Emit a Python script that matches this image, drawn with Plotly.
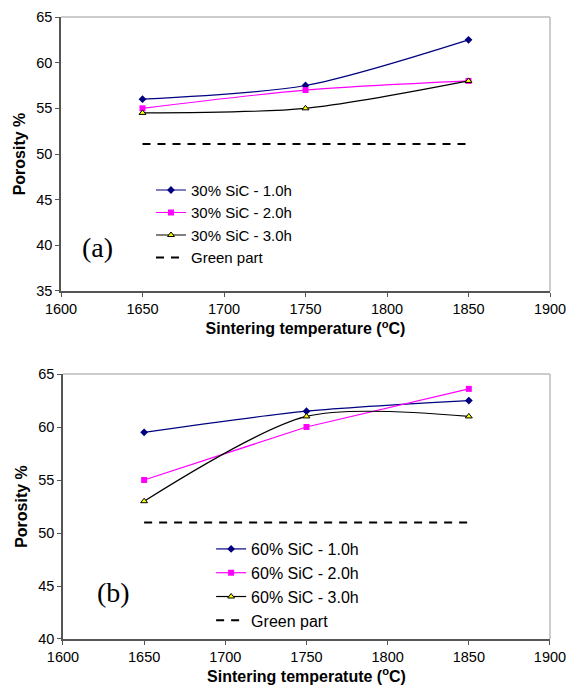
import plotly.graph_objects as go

temps = [1650, 1750, 1850]

# Panel (a): 30% SiC
a_names = ["30% SiC - 1.0h", "30% SiC - 2.0h", "30% SiC - 3.0h"]
a_1h = [56.0, 57.5, 62.5]
a_2h = [55.0, 57.0, 58.0]
a_3h = [54.5, 55.0, 58.0]
a_green = [51.1, 51.1, 51.1]

# Panel (b): 60% SiC
b_names = ["60% SiC - 1.0h", "60% SiC - 2.0h", "60% SiC - 3.0h"]
b_1h = [59.5, 61.5, 62.5]
b_2h = [55.0, 60.0, 63.6]
b_3h = [53.0, 61.0, 61.0]
b_green = [51.0, 51.0, 51.0]

green_name = "Green part"
x_ticks = [1600, 1650, 1700, 1750, 1800, 1850, 1900]

fig = go.Figure()

styles = [
    dict(color="#000080", marker=dict(symbol="diamond", size=6, color="#000080")),
    dict(color="#FF00FF", marker=dict(symbol="square", size=6, color="#FF00FF")),
    dict(color="#000000", marker=dict(symbol="triangle-up", size=6, color="#FFFF00",
                                      line=dict(color="#000000", width=1))),
]

def add_panel(names, series, green, xa, ya, legend, smooth):
    for i, (n, s) in enumerate(zip(names, series)):
        st = styles[i]
        fig.add_trace(go.Scatter(
            x=temps, y=s, name=n, mode="lines+markers",
            line=dict(color=st["color"], width=1.2,
                      shape="spline" if smooth[i] else "linear", smoothing=0.8),
            marker=st["marker"], xaxis=xa, yaxis=ya, legend=legend))
    fig.add_trace(go.Scatter(
        x=temps, y=green, name=green_name, mode="lines",
        line=dict(color="#000000", width=2, dash="8px,7px"),
        xaxis=xa, yaxis=ya, legend=legend))

add_panel(a_names, [a_1h, a_2h, a_3h], a_green, "x", "y", "legend", [True, True, True])
add_panel(b_names, [b_1h, b_2h, b_3h], b_green, "x2", "y2", "legend2", [True, False, True])

FAM = "Arial, Liberation Sans, sans-serif"
axis_font = dict(family=FAM, size=14.5, color="#000000")
title_font = dict(family=FAM, size=16, color="#000000")

common_x = dict(range=[1600, 1900], tickvals=x_ticks, ticks="outside", ticklen=4,
                tickcolor="#555555", showline=True, linecolor="#555555", linewidth=1.5,
                showgrid=False, zeroline=False, tickfont=axis_font, fixedrange=True,
                automargin=False, ticklabeloverflow="allow")
common_y = dict(ticks="outside", ticklen=4, tickcolor="#555555", showline=True,
                linecolor="#555555", linewidth=1.5, showgrid=False, zeroline=False,
                tickfont=axis_font, fixedrange=True, automargin=False)

fig.update_layout(
    width=566, height=687,
    margin=dict(l=61, r=16, t=17, b=48),
    paper_bgcolor="white", plot_bgcolor="white",
    showlegend=True,
    xaxis=dict(common_x, domain=[0, 1], anchor="y",
               title=dict(text="<b>Sintering temperature (<sup>o</sup>C)</b>", font=title_font, standoff=7)),
    yaxis=dict(common_y, domain=[0.5595, 1.0], anchor="x", range=[35, 65], dtick=5,
               title=dict(text="<b>Porosity %</b>", font=title_font, standoff=7)),
    xaxis2=dict(common_x, domain=[0.004, 1], anchor="y2",
                title=dict(text="<b>Sintering temperatute (<sup>o</sup>C)</b>", font=title_font, standoff=6)),
    yaxis2=dict(common_y, domain=[0, 0.426], anchor="x2", range=[40, 65], dtick=5,
                title=dict(text="<b>Porosity %</b>", font=title_font, standoff=7)),
    legend=dict(x=0.184, y=0.748, xanchor="left", yanchor="top", bgcolor="rgba(0,0,0,0)",
                font=dict(family=FAM, size=15, color="#000000"), tracegroupgap=0, itemwidth=30),
    legend2=dict(x=0.307, y=0.172, xanchor="left", yanchor="top", bgcolor="rgba(0,0,0,0)",
                 font=dict(family=FAM, size=16, color="#000000"), tracegroupgap=0, itemwidth=30),
    annotations=[
        dict(text="(a)", x=0.0745, y=0.157, xref="x domain", yref="y domain", showarrow=False,
             xanchor="center", yanchor="middle",
             font=dict(family="Liberation Serif, Times New Roman, serif", size=28, color="#000000")),
        dict(text="(b)", x=0.103, y=0.174, xref="x2 domain", yref="y2 domain", showarrow=False,
             xanchor="center", yanchor="middle",
             font=dict(family="Liberation Serif, Times New Roman, serif", size=28, color="#000000")),
    ],
    shapes=[
        dict(type="line", xref="x domain", yref="y domain", x0=0, x1=1, y0=1, y1=1,
             line=dict(color="#BBBBBB", width=1.5)),
        dict(type="line", xref="x domain", yref="y domain", x0=1, x1=1, y0=0, y1=1,
             line=dict(color="#BBBBBB", width=1.5)),
        dict(type="line", xref="x2 domain", yref="y2 domain", x0=0, x1=1, y0=1, y1=1,
             line=dict(color="#BBBBBB", width=1.5)),
        dict(type="line", xref="x2 domain", yref="y2 domain", x0=1, x1=1, y0=0, y1=1,
             line=dict(color="#BBBBBB", width=1.5)),
    ],
)

fig.write_html("out.html", config={"displayModeBar": False},
               post_script="document.body.style.margin='0';document.body.style.overflow='hidden';")
